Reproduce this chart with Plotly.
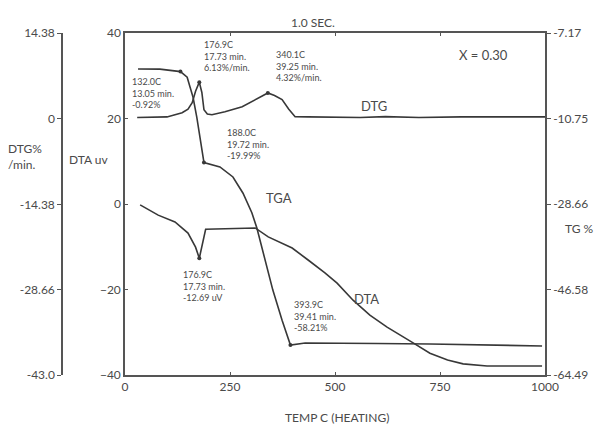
import plotly.graph_objects as go

W, H = 602, 426
OFF = 8  # default page body margin in the exported html

# ---------------- data ----------------
# TGA curve (temperature C, TG %)
tga_temp = [31, 83, 132, 148, 155, 162, 171, 179, 188, 226, 257, 281, 302, 314,
            333, 352, 374, 393.9, 429, 476, 600, 726, 850, 993]
tga_val = [-0.36, -0.4, -0.92, -2.1, -4.2, -6.3, -10.5, -14.6, -19.99, -20.9, -23.0,
           -26.4, -30.5, -33.7, -40.4, -46.7, -53.0, -58.21, -57.8, -57.8, -57.9,
           -58.0, -58.2, -58.4]

# DTG curve (temperature C, %/min)
dtg_temp = [29, 100, 136, 150, 160, 168, 176.9, 183, 188, 196, 207, 238, 279, 317,
            340.1, 356, 374, 390, 405, 436, 500, 560, 620, 700, 800, 900, 1000]
dtg_val = [0.2, 0.3, 1.0, 1.6, 2.7, 4.6, 6.13, 4.4, 1.5, 0.8, 0.67, 1.17, 2.0, 3.5,
           4.32, 3.9, 3.2, 1.6, 0.33, 0.3, 0.3, 0.2, 0.35, 0.2, 0.3, 0.3, 0.3]

# DTA curve (temperature C, uV)
dta_temp = [36, 79, 119, 150, 168, 176.9, 192, 207, 260, 310, 341, 398, 436, 476,
            505, 543, 583, 624, 686, 726, 768, 805, 862, 993]
dta_val = [-0.2, -2.6, -4.2, -6.8, -10.1, -12.69, -5.9, -5.85, -5.7, -5.6, -7.7,
           -10.3, -13.1, -16.1, -18.5, -22.5, -26.0, -28.8, -32.5, -34.9, -36.5,
           -37.4, -37.9, -37.9]

# labelled points
tga_pts_t = [132.0, 188.0, 393.9]
tga_pts_v = [-0.92, -19.99, -58.21]
dtg_pts_t = [176.9, 340.1]
dtg_pts_v = [6.13, 4.32]
dta_pts_t = [176.9]
dta_pts_v = [-12.69]

x_ticks = [0, 250, 500, 750, 1000]
dta_ticks = [-40, -20, 0, 20, 40]
dtg_ticks = [14.38, 0, -14.38, -28.66, -43.0]
dtg_ticktext = ["14.38", "0", "-14.38", "-28.66", "-43.0"]
tg_ticks = [7.17, -10.75, -28.66, -46.58, -64.49]
tg_ticktext = ["-7.17", "-10.75", "-28.66", "-46.58", "-64.49"]

# ---------------- style ----------------
LINE = "#383838"
AX = "#555555"
TXT = "#4a4a4a"
FONT = "Lato"


def px(x):
    return (x - OFF) / W


def py(y):
    return 1 - (y - OFF) / H


fig = go.Figure()

fig.add_trace(go.Scatter(x=dta_temp, y=dta_val, mode="lines", yaxis="y",
                         line=dict(color=LINE, width=1.6), showlegend=False))
fig.add_trace(go.Scatter(x=tga_temp, y=tga_val, mode="lines", yaxis="y2",
                         line=dict(color=LINE, width=1.6), showlegend=False))
fig.add_trace(go.Scatter(x=dtg_temp, y=dtg_val, mode="lines", yaxis="y3",
                         line=dict(color=LINE, width=1.6), showlegend=False))

fig.add_trace(go.Scatter(x=dta_pts_t, y=dta_pts_v, mode="markers", yaxis="y",
                         marker=dict(color=LINE, size=4), showlegend=False))
fig.add_trace(go.Scatter(x=tga_pts_t, y=tga_pts_v, mode="markers", yaxis="y2",
                         marker=dict(color=LINE, size=4), showlegend=False))
fig.add_trace(go.Scatter(x=dtg_pts_t, y=dtg_pts_v, mode="markers", yaxis="y3",
                         marker=dict(color=LINE, size=4), showlegend=False))

x0, x1 = 125, 545
y_top, y_bot = 33, 375

tickfont = dict(family=FONT, size=12, color=TXT)

fig.update_layout(
    width=W, height=H,
    margin=dict(l=0, r=0, t=0, b=0, autoexpand=False),
    paper_bgcolor="white", plot_bgcolor="white",
    font=dict(family=FONT, color=TXT),
    xaxis=dict(domain=[px(x0), px(x1)], range=[0, 1000], tickvals=x_ticks,
               showline=True, linecolor=AX, linewidth=1.5, mirror="ticks",
               ticks="inside", ticklen=3, tickcolor=AX, showgrid=False,
               zeroline=False, tickfont=tickfont, anchor="y"),
    yaxis=dict(domain=[py(y_bot), py(y_top)], range=[-40, 40], tickvals=dta_ticks,
               showline=True, linecolor=AX, linewidth=1.5, ticks="inside",
               ticklen=3, tickcolor=AX, showgrid=False, zeroline=False,
               tickfont=tickfont, anchor="x"),
    yaxis2=dict(range=[-64.49, 7.17], tickvals=tg_ticks, ticktext=tg_ticktext,
                overlaying="y", side="right", anchor="x",
                showline=True, linecolor=AX, linewidth=1.5, ticks="outside",
                ticklen=4, tickcolor=AX, showgrid=False, zeroline=False,
                tickfont=tickfont),
    yaxis3=dict(range=[-43.0, 14.38], tickvals=dtg_ticks, ticktext=dtg_ticktext,
                overlaying="y", side="left", anchor="free", position=px(62),
                showline=True, linecolor=AX, linewidth=1.5, ticks="outside",
                ticklen=4, tickcolor=AX, showgrid=False, zeroline=False,
                tickfont=tickfont),
)


def note(x, y, text, size=9, xanchor="left", yanchor="top", align="left"):
    fig.add_annotation(x=px(x), y=py(y), xref="paper", yref="paper", text=text,
                       showarrow=False, xanchor=xanchor, yanchor=yanchor,
                       align=align, font=dict(family=FONT, size=size, color=TXT))


small = 9
note(130, 74, "132.0C<br>13.05 min.<br>-0.92%", small)
note(202, 37, "176.9C<br>17.73 min.<br>6.13%/min.", small)
note(274, 47, "340.1C<br>39.25 min.<br>4.32%/min.", small)
note(225, 125, "188.0C<br>19.72 min.<br>-19.99%", small)
note(181, 267, "176.9C<br>17.73 min.<br>-12.69 uV", small)
note(292, 297, "393.9C<br>39.41 min.<br>-58.21%", small)

note(279, 198, "TGA", 13, xanchor="center", yanchor="middle")
note(374, 106, "DTG", 13, xanchor="center", yanchor="middle")
note(366, 299, "DTA", 13, xanchor="center", yanchor="middle")
note(483, 55, "X = 0.30", 13, xanchor="center", yanchor="middle")
note(313, 22, "1.0 SEC.", 12, xanchor="center", yanchor="middle")
note(337, 417, "TEMP C (HEATING)", 12, xanchor="center", yanchor="middle")
note(6, 156, "DTG%<br>/min.", 12, xanchor="left", yanchor="middle")
note(88, 159, "DTA uv", 12, xanchor="center", yanchor="middle")
note(579, 228, "TG %", 12, xanchor="center", yanchor="middle")

fig.write_html("out.html")
